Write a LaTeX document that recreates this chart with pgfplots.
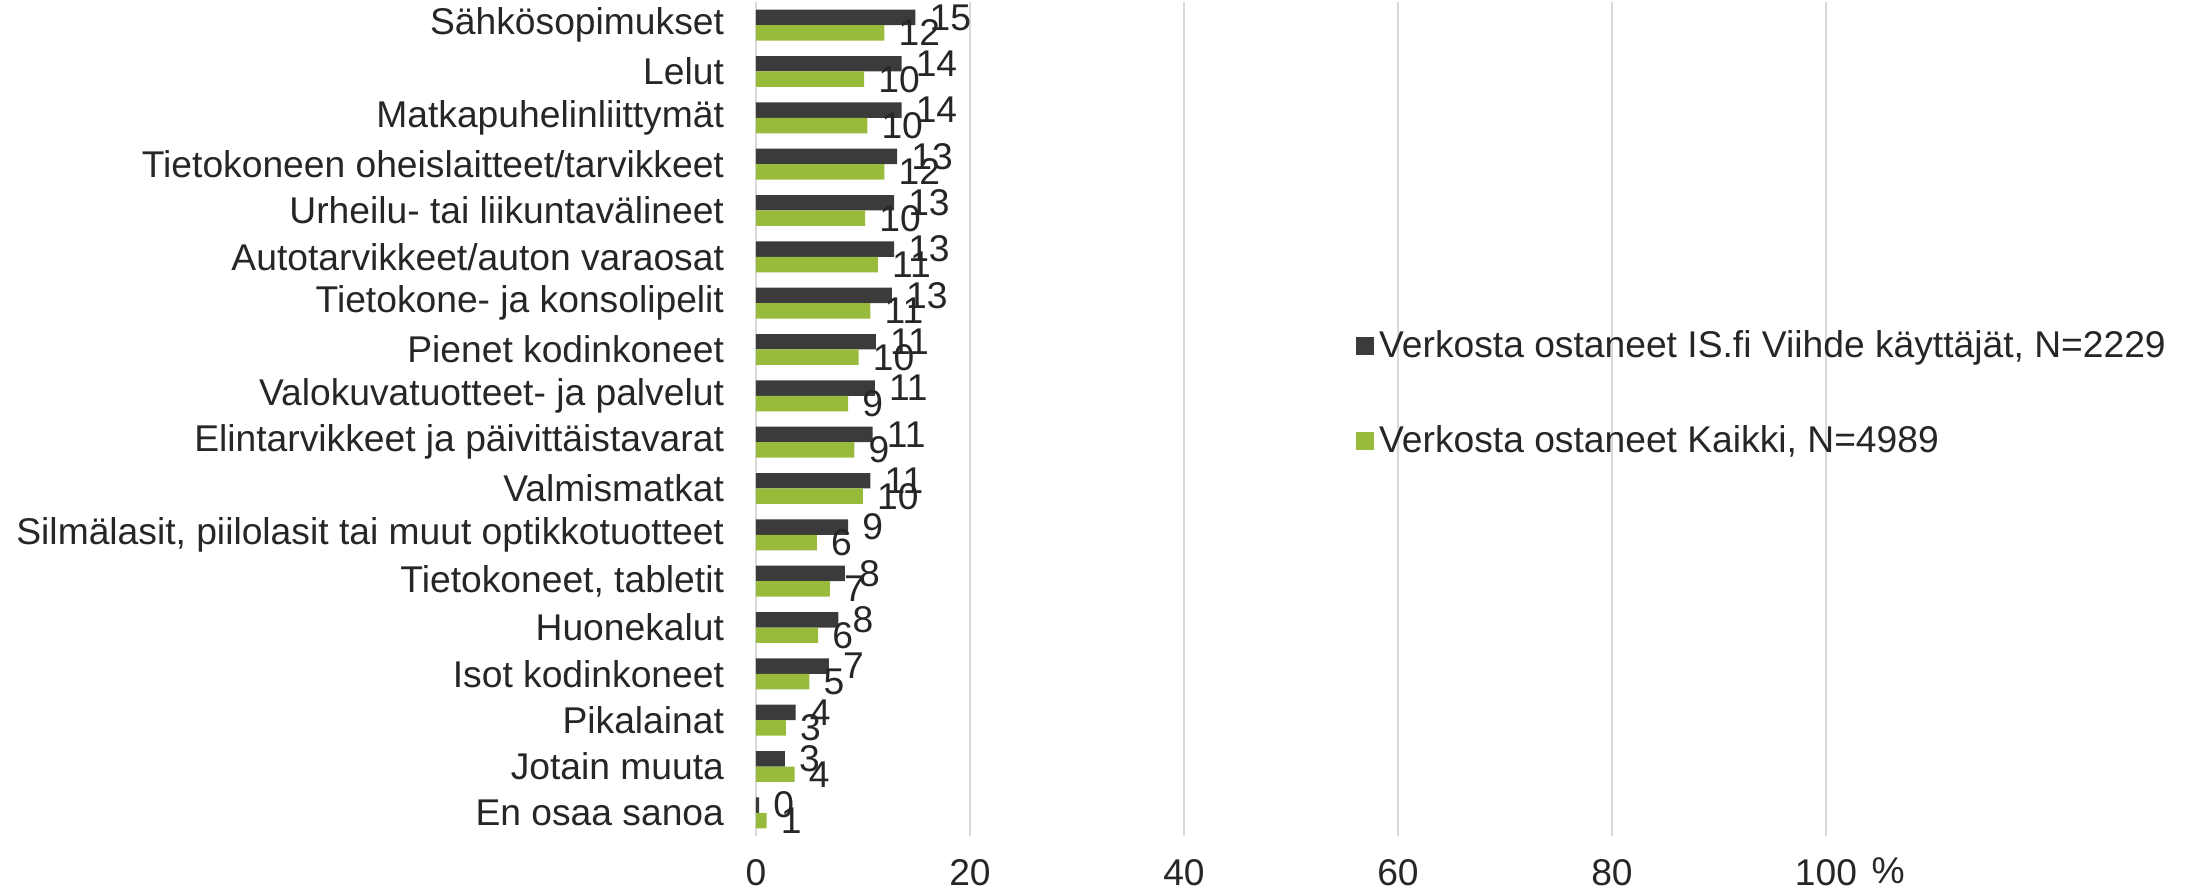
\documentclass[border=0pt]{standalone}
\usepackage{pgfplots}
\pgfplotsset{compat=1.18}
\usepackage{pgfplotstable}
\usepackage{fontspec}
\setmainfont{Liberation Sans}
\definecolor{darkbar}{HTML}{3B3B3B}
\definecolor{greenbar}{HTML}{99BB3B}
\definecolor{gridc}{HTML}{D9D9D9}
\definecolor{txt}{HTML}{262626}
\newcommand{\lblfont}{\fontsize{13.4}{16}\selectfont}
\pgfplotstableread{
cat dark darkl green greenl
0 14.9 15 12.0 12
1 13.6 14 10.1 10
2 13.6 14 10.4 10
3 13.2 13 12.0 12
4 12.9 13 10.2 10
5 12.9 13 11.4 11
6 12.7 13 10.7 11
7 11.2 11 9.6 10
8 11.1 11 8.6 9
9 10.9 11 9.2 9
10 10.7 11 10.0 10
11 8.6 9 5.7 6
12 8.3 8 6.9 7
13 7.7 8 5.8 6
14 6.8 7 5.0 5
15 3.7 4 2.8 3
16 2.7 3 3.6 4
17 0.3 0 1.0 1
}\datatable
\begin{document}
\begin{tikzpicture}[font=\lblfont, text=txt]
\begin{axis}[
  at={(0,0)}, anchor=south west,
  scale only axis,
  width=385.2pt, height=300.24pt,
  xbar,
  xmin=0, xmax=100,
  ymin=-0.5, ymax=17.5,
  y dir=reverse,
  clip=false,
  axis line style={draw=none},
  xtick={0,20,...,100},
  xmajorgrids,
  major grid style={gridc, line width=0.8pt},
  major tick length=0pt,
  ytick={0,...,17},
  yticklabels={Sähkösopimukset,Lelut,Matkapuhelinliittymät,Tietokoneen oheislaitteet/tarvikkeet,Urheilu- tai liikuntavälineet,Autotarvikkeet/auton varaosat,Tietokone- ja konsolipelit,Pienet kodinkoneet,Valokuvatuotteet- ja palvelut,Elintarvikkeet ja päivittäistavarat,Valmismatkat,{Silmälasit, piilolasit tai muut optikkotuotteet},{Tietokoneet, tabletit},Huonekalut,Isot kodinkoneet,Pikalainat,Jotain muuta,En osaa sanoa},
  /pgf/number format/assume math mode=true,
  ticklabel style={font=\lblfont, text=txt},
  y tick label style={xshift=-8pt},
  x tick label style={yshift=-5pt},
  bar width=0.334,
  nodes near coords,
  point meta=explicit,
  nodes near coords style={font=\lblfont, text=txt, anchor=west, xshift=1.6pt, /pgf/number format/fixed, /pgf/number format/precision=0, /pgf/number format/assume math mode=true},
  legend style={draw=none, fill=none, at={(axis description cs:0.552,0.62)}, anchor=north west, row sep=19pt, font=\lblfont, text=txt},
  legend cell align=left,
  legend image code/.code={\path[#1,draw=none] (0pt,-3.25pt) rectangle (6.5pt,3.25pt);},
]
\addplot[fill=darkbar, draw=none, bar shift=-0.167] table[x=dark, y=cat, meta=darkl] {\datatable};
\addlegendentry{Verkosta ostaneet IS.fi Viihde käyttäjät, N=2229}
\addplot[fill=greenbar, draw=none, bar shift=0.167] table[x=green, y=cat, meta=greenl] {\datatable};
\addlegendentry{Verkosta ostaneet Kaikki, N=4989}
\node[anchor=center, font=\lblfont, text=txt] at (axis cs:105.8,17.5) [yshift=-12.6pt] {\%};
\end{axis}
\pgfresetboundingbox
\path[use as bounding box] (-272.16pt,-19.44pt) rectangle (520.2pt,300.96pt);
\end{tikzpicture}
\end{document}
